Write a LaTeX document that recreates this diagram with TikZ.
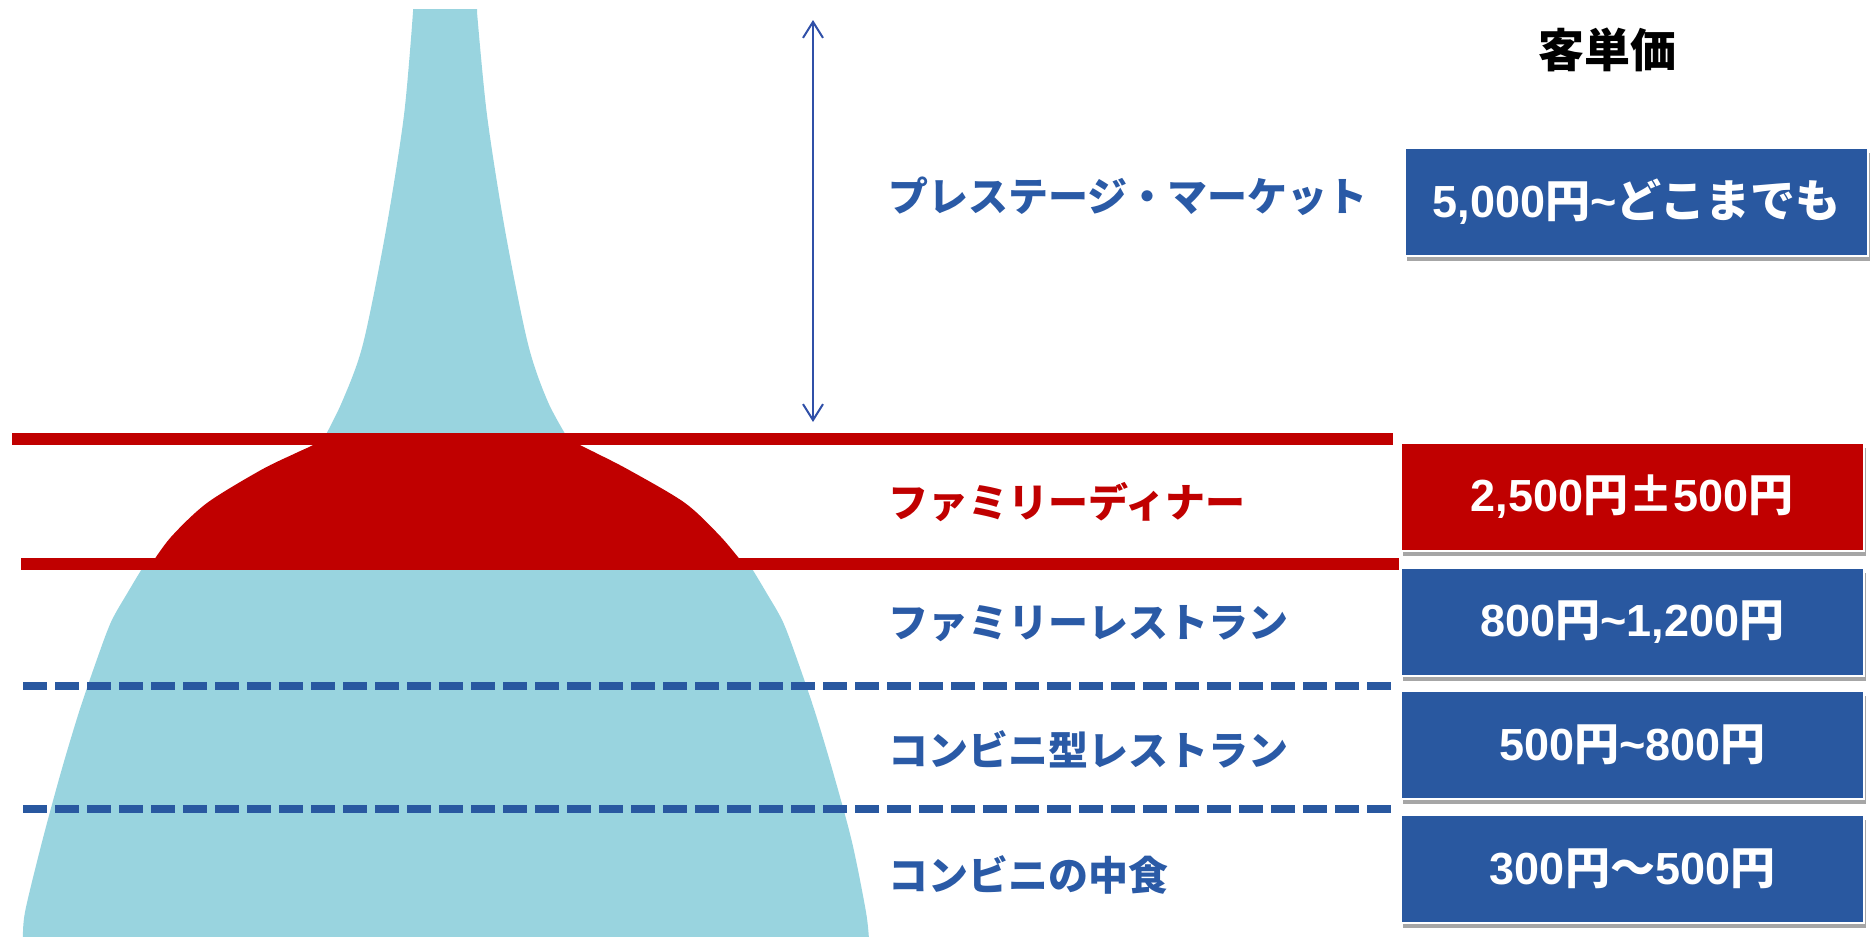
\documentclass[tikz,border=0pt]{standalone}
\usepackage{fontspec}
\setmainfont{Liberation Sans}
\newfontfamily\cjk{Noto Sans CJK JP}
\usetikzlibrary{arrows.meta,shadows}
\definecolor{skyfill}{HTML}{99D4DF}
\definecolor{darkred}{HTML}{C00000}
\definecolor{boxblue}{HTML}{2958A0}
\definecolor{labelblue}{HTML}{2A5AA6}
\definecolor{arrowblue}{HTML}{3050A8}
\newcommand\jpn[1]{{\cjk #1}}
\begin{document}
\begin{tikzpicture}[x=1pt,y=-1pt,
  pricebox/.style={fill=boxblue, draw=white, line width=2pt, minimum width=463pt, minimum height=108pt, inner sep=0pt, text=white,
    font=\fontsize{45}{54}\selectfont\bfseries,
    drop shadow={shadow xshift=2pt, shadow yshift=-5pt, opacity=0.35, fill=black}},
  redbox/.style={pricebox, fill=darkred},
  lbl/.style={anchor=west, inner sep=0pt, font=\cjk\bfseries\fontsize{40}{48}\selectfont, text=labelblue},
  redline/.style={draw=darkred, line width=12pt},
  dashline/.style={draw=boxblue, line width=8pt, dash pattern=on 24pt off 8pt},
  span/.style={draw=arrowblue, line width=2pt, {Straight Barb[length=16pt,width=20pt]}-{Straight Barb[length=16pt,width=20pt]}}
]
\useasboundingbox (0,0) rectangle (1875,937);
% bottle shape: spike
\fill[skyfill] (322,442) -- plot[smooth, tension=0.5] coordinates {(322,442) (342,402) (363,344) (386,230) (404,115) (413,12)}
  -- (413,9) -- (477,9) -- (477,12)
  -- plot[smooth, tension=0.5] coordinates {(477,12) (487,115) (505,230) (528,344) (548,402) (570,442)} -- cycle;
% red blob
\fill[darkred] (150,566) -- plot[smooth, tension=0.5] coordinates {(150,566) (171,537) (207,503) (261,470) (296,453) (313,445) (320,438)}
  -- (570,438)
  -- plot[smooth, tension=0.5] coordinates {(570,438) (580,445) (596,453) (629,470) (685,503) (721,537) (745,566)} -- cycle;
% base
\fill[skyfill] (23,940) -- plot[smooth, tension=0.5] coordinates {(23,940) (25,912) (42,842) (61,772) (79,712) (96,662) (111,622) (128,592) (146,562)}
  -- (748,562)
  -- plot[smooth, tension=0.5] coordinates {(748,562) (766,592) (783,622) (798,662) (815,712) (833,772) (852,842) (866,912) (869,940)} -- cycle;
% lines
\coordinate (r1a) at (12,439);
\coordinate (r1b) at (1393,439);
\coordinate (r2a) at (21,564);
\coordinate (r2b) at (1399,564);
\coordinate (d1a) at (23,686);
\coordinate (d1b) at (1392,686);
\coordinate (d2a) at (23,808.5);
\coordinate (d2b) at (1392,808.5);
\draw[redline] (r1a) -- (r1b);
\draw[redline] (r2a) -- (r2b);
\draw[dashline] (d1a) -- (d1b);
\draw[dashline] (d2a) -- (d2b);
\coordinate (arrtop) at (813,20);
\coordinate (arrbot) at (813,422);
\draw[span] (arrtop) -- (arrbot);
% labels
\node[lbl] (l1) at (888,196) {プレステージ・マーケット};
\node[lbl, text=darkred] (l2) at (888,502) {ファミリーディナー};
\node[lbl] (l3) at (888,624) {ファミリーレストラン};
\node[lbl] (l4) at (888,749) {コンビニ型レストラン};
\node[lbl] (l5) at (888,875) {コンビニの中食};
% header
\node[text=black, font=\cjk\bfseries\fontsize{46}{54}\selectfont] (hd) at (1607,50) {客単価};
% price boxes
\node[pricebox] (b1) at (1636.5,201.5) {5,000\jpn{円}\textasciitilde\jpn{どこまでも}};
\node[redbox] (b2) at (1632,496.5) {2,500\jpn{円±}500\jpn{円}};
\node[pricebox] (b3) at (1632.5,622) {800\jpn{円}\textasciitilde 1,200\jpn{円}};
\node[pricebox] (b4) at (1632.5,745) {500\jpn{円}\textasciitilde 800\jpn{円}};
\node[pricebox] (b5) at (1632.5,869) {300\jpn{円～}500\jpn{円}};
\end{tikzpicture}
\end{document}
